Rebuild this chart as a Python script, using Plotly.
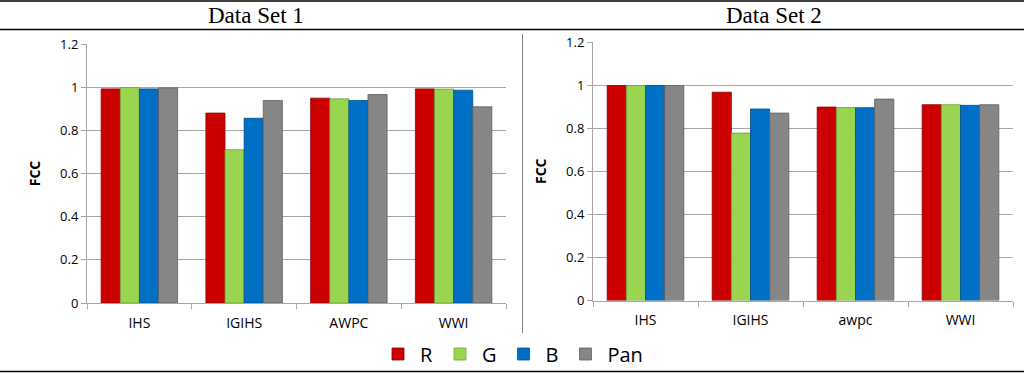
import plotly.graph_objects as go

categories_1 = ["IHS", "IGIHS", "AWPC", "WWI"]
categories_2 = ["IHS", "IGIHS", "awpc", "WWI"]
series_names = ["R", "G", "B", "Pan"]

ds1_R = [0.992, 0.880, 0.949, 0.992]
ds1_G = [0.998, 0.710, 0.946, 0.991]
ds1_B = [0.992, 0.856, 0.938, 0.986]
ds1_Pan = [0.997, 0.938, 0.966, 0.909]

ds2_R = [0.998, 0.967, 0.898, 0.909]
ds2_G = [0.998, 0.777, 0.896, 0.909]
ds2_B = [0.998, 0.889, 0.895, 0.906]
ds2_Pan = [0.998, 0.870, 0.935, 0.909]

y_ticks = [0, 0.2, 0.4, 0.6, 0.8, 1, 1.2]
y_tick_text = ["0", "0.2", "0.4", "0.6", "0.8", "1", "1.2"]

colors = ["#CC0000", "#99D551", "#0070C6", "#868686"]
edges = ["#8E0000", "#6E9E37", "#004E8A", "#5E5E5E"]

fig = go.Figure()
ds1 = [ds1_R, ds1_G, ds1_B, ds1_Pan]
ds2 = [ds2_R, ds2_G, ds2_B, ds2_Pan]
for i, name in enumerate(series_names):
    fig.add_trace(go.Bar(x=categories_1, y=ds1[i], name=name, marker_color=colors[i],
                         marker_line=dict(color=edges[i], width=0.8),
                         xaxis="x", yaxis="y", legendgroup=name, showlegend=True))
for i, name in enumerate(series_names):
    fig.add_trace(go.Bar(x=categories_2, y=ds2[i], name=name, marker_color=colors[i],
                         marker_line=dict(color=edges[i], width=0.8),
                         xaxis="x2", yaxis="y2", legendgroup=name, showlegend=False))

W, H = 1024, 375
def px(x):
    return x / W
def py(y):
    return 1 - y / H

font_family = "Open Sans, DejaVu Sans, sans-serif"
ytickfont = dict(family=font_family, size=13, color="#000000")
xtickfont = dict(family=font_family, size=14, color="#000000")
xcommon = dict(type="category", showgrid=False, showline=True, linecolor="#A6A6A6", linewidth=1,
               ticks="outside", tickson="boundaries", ticklen=5, tickcolor="#A6A6A6",
               tickfont=xtickfont, ticklabelstandoff=7, fixedrange=True, automargin=False)
ycommon = dict(range=[0, 1.2], tickvals=y_ticks, ticktext=y_tick_text, showgrid=True,
               gridcolor="#A6A6A6", gridwidth=1, showline=True, linecolor="#A6A6A6",
               ticks="outside", ticklen=5, tickcolor="#A6A6A6", tickfont=ytickfont,
               zeroline=False, fixedrange=True, automargin=False,
               title=dict(text="<b>FCC</b>", font=dict(family=font_family, size=14, color="#000"), standoff=16))

fig.update_layout(
    width=W, height=H, autosize=False,
    margin=dict(l=0, r=0, t=0, b=0, pad=0),
    paper_bgcolor="white", plot_bgcolor="white",
    barmode="group", bargap=0.27, bargroupgap=0,
    xaxis=dict(domain=[px(87), px(506)], anchor="y", **xcommon),
    yaxis=dict(domain=[py(303), py(44)], anchor="x", **ycommon),
    xaxis2=dict(domain=[px(593), px(1013)], anchor="y2", **xcommon),
    yaxis2=dict(domain=[py(300.5), py(42)], anchor="x2", **ycommon),
    legend=dict(orientation="h", x=0.5, xanchor="center", y=py(354), yanchor="middle",
                font=dict(family=font_family, size=20, color="#000"),
                bgcolor="rgba(0,0,0,0)", itemwidth=34, traceorder="normal"),
    showlegend=True,
)

title_font = dict(family="Liberation Serif, Times New Roman, serif", size=23, color="#000")
fig.add_annotation(x=px(256), y=py(16), xref="paper", yref="paper", text="Data Set 1",
                   showarrow=False, font=title_font, xanchor="center", yanchor="middle")
fig.add_annotation(x=px(774), y=py(16), xref="paper", yref="paper", text="Data Set 2",
                   showarrow=False, font=title_font, xanchor="center", yanchor="middle")

line_shapes = [
    dict(x0=0, x1=1, y0=py(1), y1=py(1), color="#000", width=1.5),
    dict(x0=0, x1=1, y0=py(29.5), y1=py(29.5), color="#000", width=1.5),
    dict(x0=0, x1=1, y0=py(371.5), y1=py(371.5), color="#000", width=1.5),
    dict(x0=px(522.5), x1=px(522.5), y0=py(34), y1=py(333), color="#808080", width=1),
]
for s in line_shapes:
    fig.add_shape(type="line", xref="paper", yref="paper", x0=s["x0"], x1=s["x1"], y0=s["y0"], y1=s["y1"],
                  line=dict(color=s["color"], width=s["width"]), layer="below")

post = ("document.body.style.margin='0';document.body.style.padding='0';"
        "document.body.style.overflow='hidden';")
fig.write_html("out.html", post_script=post, config={"responsive": False, "displayModeBar": False})
